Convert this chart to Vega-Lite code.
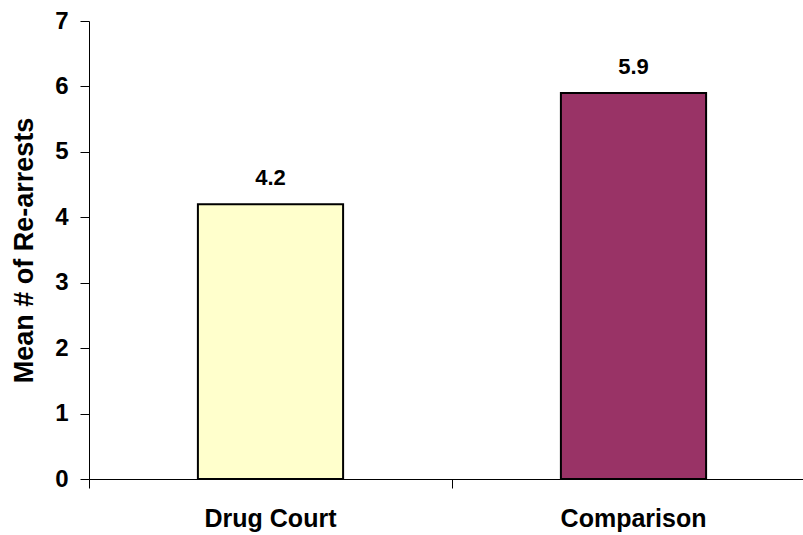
{
  "$schema": "https://vega.github.io/schema/vega-lite/v6.json",
  "autosize": {"type": "none"},
  "padding": {"left": 89, "top": 21, "right": 0, "bottom": 56},
  "width": 726,
  "height": 458,
  "background": "white",
  "config": {"view": {"stroke": null}, "font": "Liberation Sans"},
  "data": {"values": [
    {"group": "Drug Court", "mean": 4.2, "label": "4.2"},
    {"group": "Comparison", "mean": 5.9, "label": "5.9"}
  ]},
  "encoding": {
    "x": {"field": "group", "type": "nominal", "sort": ["Drug Court", "Comparison"],
      "scale": {"paddingInner": 0, "paddingOuter": 0},
      "axis": {"title": null, "labelAngle": 0, "bandPosition": 0, "tickSize": 9,
        "tickColor": "#000", "domainColor": "#000", "labelFont": "Liberation Sans",
        "labelFontSize": 25, "labelFontWeight": "bold", "labelColor": "#000", "labelPadding": 18}},
    "y": {"field": "mean", "type": "quantitative",
      "scale": {"domain": [0, 7], "nice": false},
      "axis": {"title": "Mean # of Re-arrests", "values": [0, 1, 2, 3, 4, 5, 6, 7], "grid": false,
        "tickSize": 9, "tickColor": "#000", "domainColor": "#000",
        "labelFont": "Liberation Sans", "labelFontSize": 24, "labelFontWeight": "bold", "labelColor": "#000",
        "labelPadding": 12, "titleFont": "Liberation Sans", "titleFontSize": 27, "titleFontWeight": "bold",
        "titleColor": "#000", "titlePadding": 16}}
  },
  "layer": [
    {"mark": {"type": "bar", "stroke": "#000", "strokeWidth": 2, "width": {"band": 0.4}},
      "encoding": {"color": {"field": "group", "type": "nominal", "legend": null,
        "scale": {"domain": ["Drug Court", "Comparison"], "range": ["#FFFFCC", "#993366"]}}}},
    {"mark": {"type": "text", "font": "Liberation Sans", "fontSize": 22, "fontWeight": "bold", "color": "#000", "baseline": "alphabetic", "dy": -19},
      "encoding": {"text": {"field": "label"}}}
  ]
}
